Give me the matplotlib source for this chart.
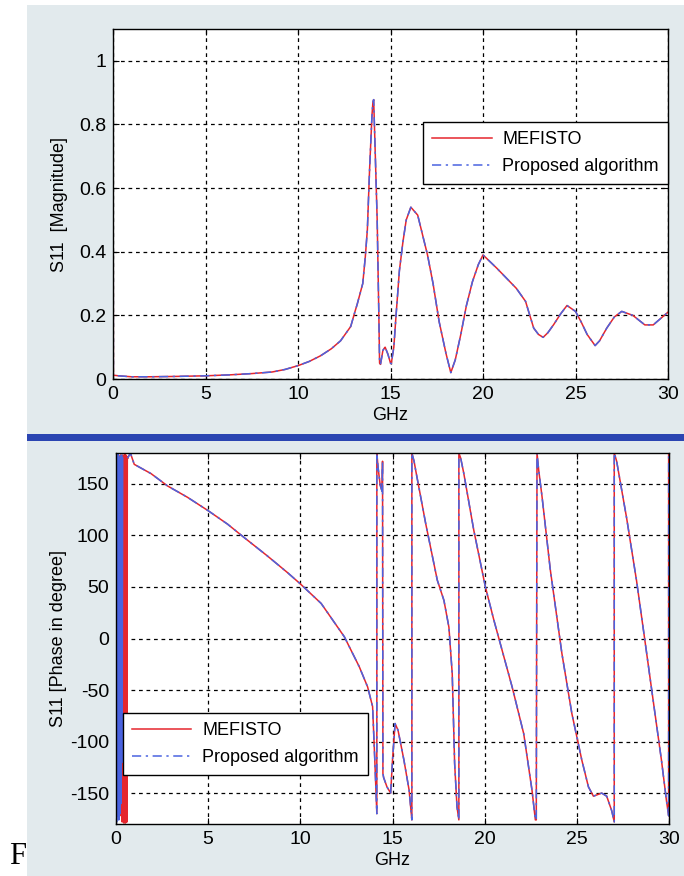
import matplotlib
matplotlib.use("Agg")
import matplotlib.pyplot as plt
from matplotlib.patches import Rectangle

plt.rcParams['font.family'] = ['Liberation Sans', 'DejaVu Sans']
plt.rcParams['axes.unicode_minus'] = False

# ---- S11 magnitude (both solvers agree closely) ----
mag_freq = [0.0, 0.02, 0.3, 1.0, 2.0, 3.3, 5.0, 6.3, 7.5, 8.6, 9.3, 10.0, 10.6,
            11.22, 11.8, 12.3, 12.85, 13.07, 13.2, 13.5, 13.64, 13.75, 13.87, 14.0,
            14.05, 14.09, 14.14, 14.22, 14.28, 14.37, 14.41, 14.46, 14.59, 14.68,
            14.71, 14.86, 15.0, 15.04, 15.18, 15.3, 15.48, 15.67, 15.85, 16.1,
            16.47, 17.0, 17.3, 17.63, 18.0, 18.26, 18.5, 18.8, 19.1, 19.43, 19.75,
            20.0, 20.75, 21.3, 21.8, 22.3, 22.74, 23.0, 23.25, 23.5, 23.82, 24.2,
            24.54, 25.0, 25.3, 25.63, 26.06, 26.3, 26.69, 27.1, 27.5, 28.1, 28.75,
            29.2, 29.6, 30.0]
mag_val = [1.1, 0.012, 0.01, 0.007, 0.007, 0.008, 0.01, 0.013, 0.017, 0.022,
           0.03, 0.042, 0.055, 0.073, 0.095, 0.12, 0.165, 0.21, 0.235, 0.30,
           0.385, 0.47, 0.66, 0.83, 0.87, 0.878, 0.78, 0.62, 0.5, 0.2, 0.05,
           0.046, 0.09, 0.098, 0.1, 0.078, 0.05, 0.048, 0.1, 0.2, 0.34, 0.43,
           0.5, 0.54, 0.515, 0.39, 0.3, 0.18, 0.08, 0.02, 0.06, 0.14, 0.23,
           0.306, 0.36, 0.39, 0.348, 0.315, 0.285, 0.244, 0.16, 0.14, 0.131,
           0.145, 0.171, 0.205, 0.231, 0.2125, 0.18, 0.14, 0.105, 0.12, 0.16,
           0.195, 0.2125, 0.2, 0.17, 0.17, 0.19, 0.21]

# ---- S11 phase: swept part above ~0.6 GHz (wraps drawn as verticals) ----
ph_freq = [0.63, 0.78, 0.99, 1.9, 2.8, 3.88, 5.0, 6.05, 6.95, 8.22, 9.3, 10.0,
           11.13, 12.39, 13.2, 13.65, 13.92, 14.04, 14.15, 14.15, 14.22, 14.33,
           14.43, 14.46, 14.48, 14.52, 14.7, 14.9, 15.0, 15.14, 15.3, 15.62,
           15.9, 16.05, 16.05, 16.17, 16.26, 16.8, 17.43, 17.79, 18.06, 18.24,
           18.37, 18.5, 18.6, 18.6, 18.7, 18.87, 19.41, 20.04, 20.5, 21.49,
           22.12, 22.57, 22.75, 22.8, 22.84, 22.93, 23.11, 23.56, 24.19, 24.73,
           25.27, 25.63, 25.9, 26.35, 26.62, 26.89, 27.03, 27.03, 27.16, 27.7,
           28.24, 28.69, 29.14, 29.59, 29.86, 29.98, 29.98]
ph_val = [175, 180, 169, 160, 148, 137, 124, 111, 98, 80, 64, 53,
          34, 1.6, -27.5, -47, -66, -118, -170, 180, 165.6, 149,
          143, 172, -131, -135, -144, -150, -118, -82.5, -89, -118,
          -147, -176, 180, 172, 163, 111.6, 56.6, 37, 11, -34,
          -121, -163.5, -176, 180, 175, 160, 105, 50, 17.8, -47,
          -92.5, -147.5, -176, -176, 180, 163.6, 138, 66.8, -14.6, -72.8,
          -118, -144, -153, -150, -153, -167, -178, 180, 172, 117,
          56, -1.6, -60, -118, -157, -172, 180]

# ---- S11 phase: unresolved behaviour near DC ----
mef_dc_freq = [0.0, 0.04, 0.08, 0.12, 0.16, 0.2, 0.24, 0.28, 0.31, 0.34, 0.37,
               0.39, 0.41, 0.43, 0.45, 0.47, 0.49, 0.51, 0.53, 0.55, 0.57,
               0.59, 0.61, 0.63]
mef_dc_val = [170, -160, 172, -170, 176, -165, 178, -172, 175, -178, 178,
              -176, 177, -179, 178, -178, 179, -179, 178, -176, 177, -178,
              176, 175]
prop_dc_freq = [0.0, 0.03, 0.06, 0.09, 0.12, 0.15, 0.18, 0.21, 0.24, 0.27,
                0.3, 0.33, 0.36]
prop_dc_val = [178, -178, 176, -172, 179, -176, 174, -170, 177, -160, 178,
               -120, 175]

legend_labels = ["MEFISTO", "Proposed algorithm"]
x_ticks = [0, 5, 10, 15, 20, 25, 30]
mag_ticks = [0, 0.2, 0.4, 0.6, 0.8, 1]
mag_tick_labels = ["0", "0.2", "0.4", "0.6", "0.8", "1"]
ph_ticks = [-150, -100, -50, 0, 50, 100, 150]

RED = "#e5262e"
BLUE = "#4a63e0"
FS = 13
TICK_FS = 14

W, H = 684, 876
fig = plt.figure(figsize=(W / 100, H / 100), dpi=100)
fig.patch.set_facecolor("white")

# page background and divider bar
fig.add_artist(Rectangle((27 / W, 0), 1 - 27 / W, 1 - 5 / H,
                         transform=fig.transFigure, facecolor="#e2eaed",
                         edgecolor="none", zorder=-10))
fig.add_artist(Rectangle((27 / W, 1 - 441 / H), 1 - 27 / W, 7 / H,
                         transform=fig.transFigure, facecolor="#2b45b2",
                         edgecolor="none", zorder=-5))


def style_axes(ax):
    ax.set_facecolor("white")
    ax.grid(True, color="black", linestyle=(0, (3, 3)), linewidth=0.9)
    ax.tick_params(direction="in", top=True, right=True, length=4,
                   labelsize=TICK_FS, width=0.8, pad=5)
    for s in ax.spines.values():
        s.set_linewidth(1.0)
        s.set_color("black")
    ax.set_xlim(0, 30)
    ax.set_xticks(x_ticks)
    ax.set_xlabel("GHz", fontsize=FS, labelpad=3)


legend_kw = dict(fontsize=FS, frameon=True, fancybox=False, edgecolor="black",
                 framealpha=1, handlelength=3.3, handletextpad=0.6,
                 borderpad=0.5, labelspacing=0.55, borderaxespad=0.0)

# magnitude panel
ax1 = fig.add_axes([113 / W, 1 - 379 / H, 555 / W, 350 / H])
style_axes(ax1)
l1, = ax1.plot(mag_freq, mag_val, color=RED, linewidth=1.1, linestyle="-")
l2, = ax1.plot(mag_freq, mag_val, color=BLUE, linewidth=1.1,
               linestyle=(0, (6, 3, 1.5, 3)))
ax1.set_ylim(0, 1.1)
ax1.set_yticks(mag_ticks)
ax1.set_yticklabels(mag_tick_labels)
ax1.set_ylabel("S11  [Magnitude]", fontsize=FS, labelpad=8)
leg1 = ax1.legend([l1, l2], legend_labels, loc="upper right",
                  bbox_to_anchor=(1.0, 0.733), **legend_kw)
leg1.get_frame().set_linewidth(1.0)

# phase panel
ax2 = fig.add_axes([116 / W, 1 - 824 / H, 553 / W, 371 / H])
style_axes(ax2)
ax2.plot(mef_dc_freq, mef_dc_val, color=RED, linewidth=1.2)
ax2.plot(prop_dc_freq, prop_dc_val, color=BLUE, linewidth=1.2)
m1, = ax2.plot(ph_freq, ph_val, color=RED, linewidth=1.1, linestyle="-")
m2, = ax2.plot(ph_freq, ph_val, color=BLUE, linewidth=1.1,
               linestyle=(0, (6, 3, 1.5, 3)))
ax2.set_ylim(-180, 180)
ax2.set_yticks(ph_ticks)
ax2.set_ylabel("S11 [Phase in degree]", fontsize=FS, labelpad=2)
leg2 = ax2.legend([m1, m2], legend_labels, loc="lower left",
                  bbox_to_anchor=(0.012, 0.132), **legend_kw)
leg2.get_frame().set_linewidth(1.0)

fig.text(18 / W, 1 - 856 / H, "F", fontsize=22, family="Liberation Serif",
         ha="center", va="center")

fig.savefig("out.png", dpi=100, facecolor=fig.get_facecolor())
